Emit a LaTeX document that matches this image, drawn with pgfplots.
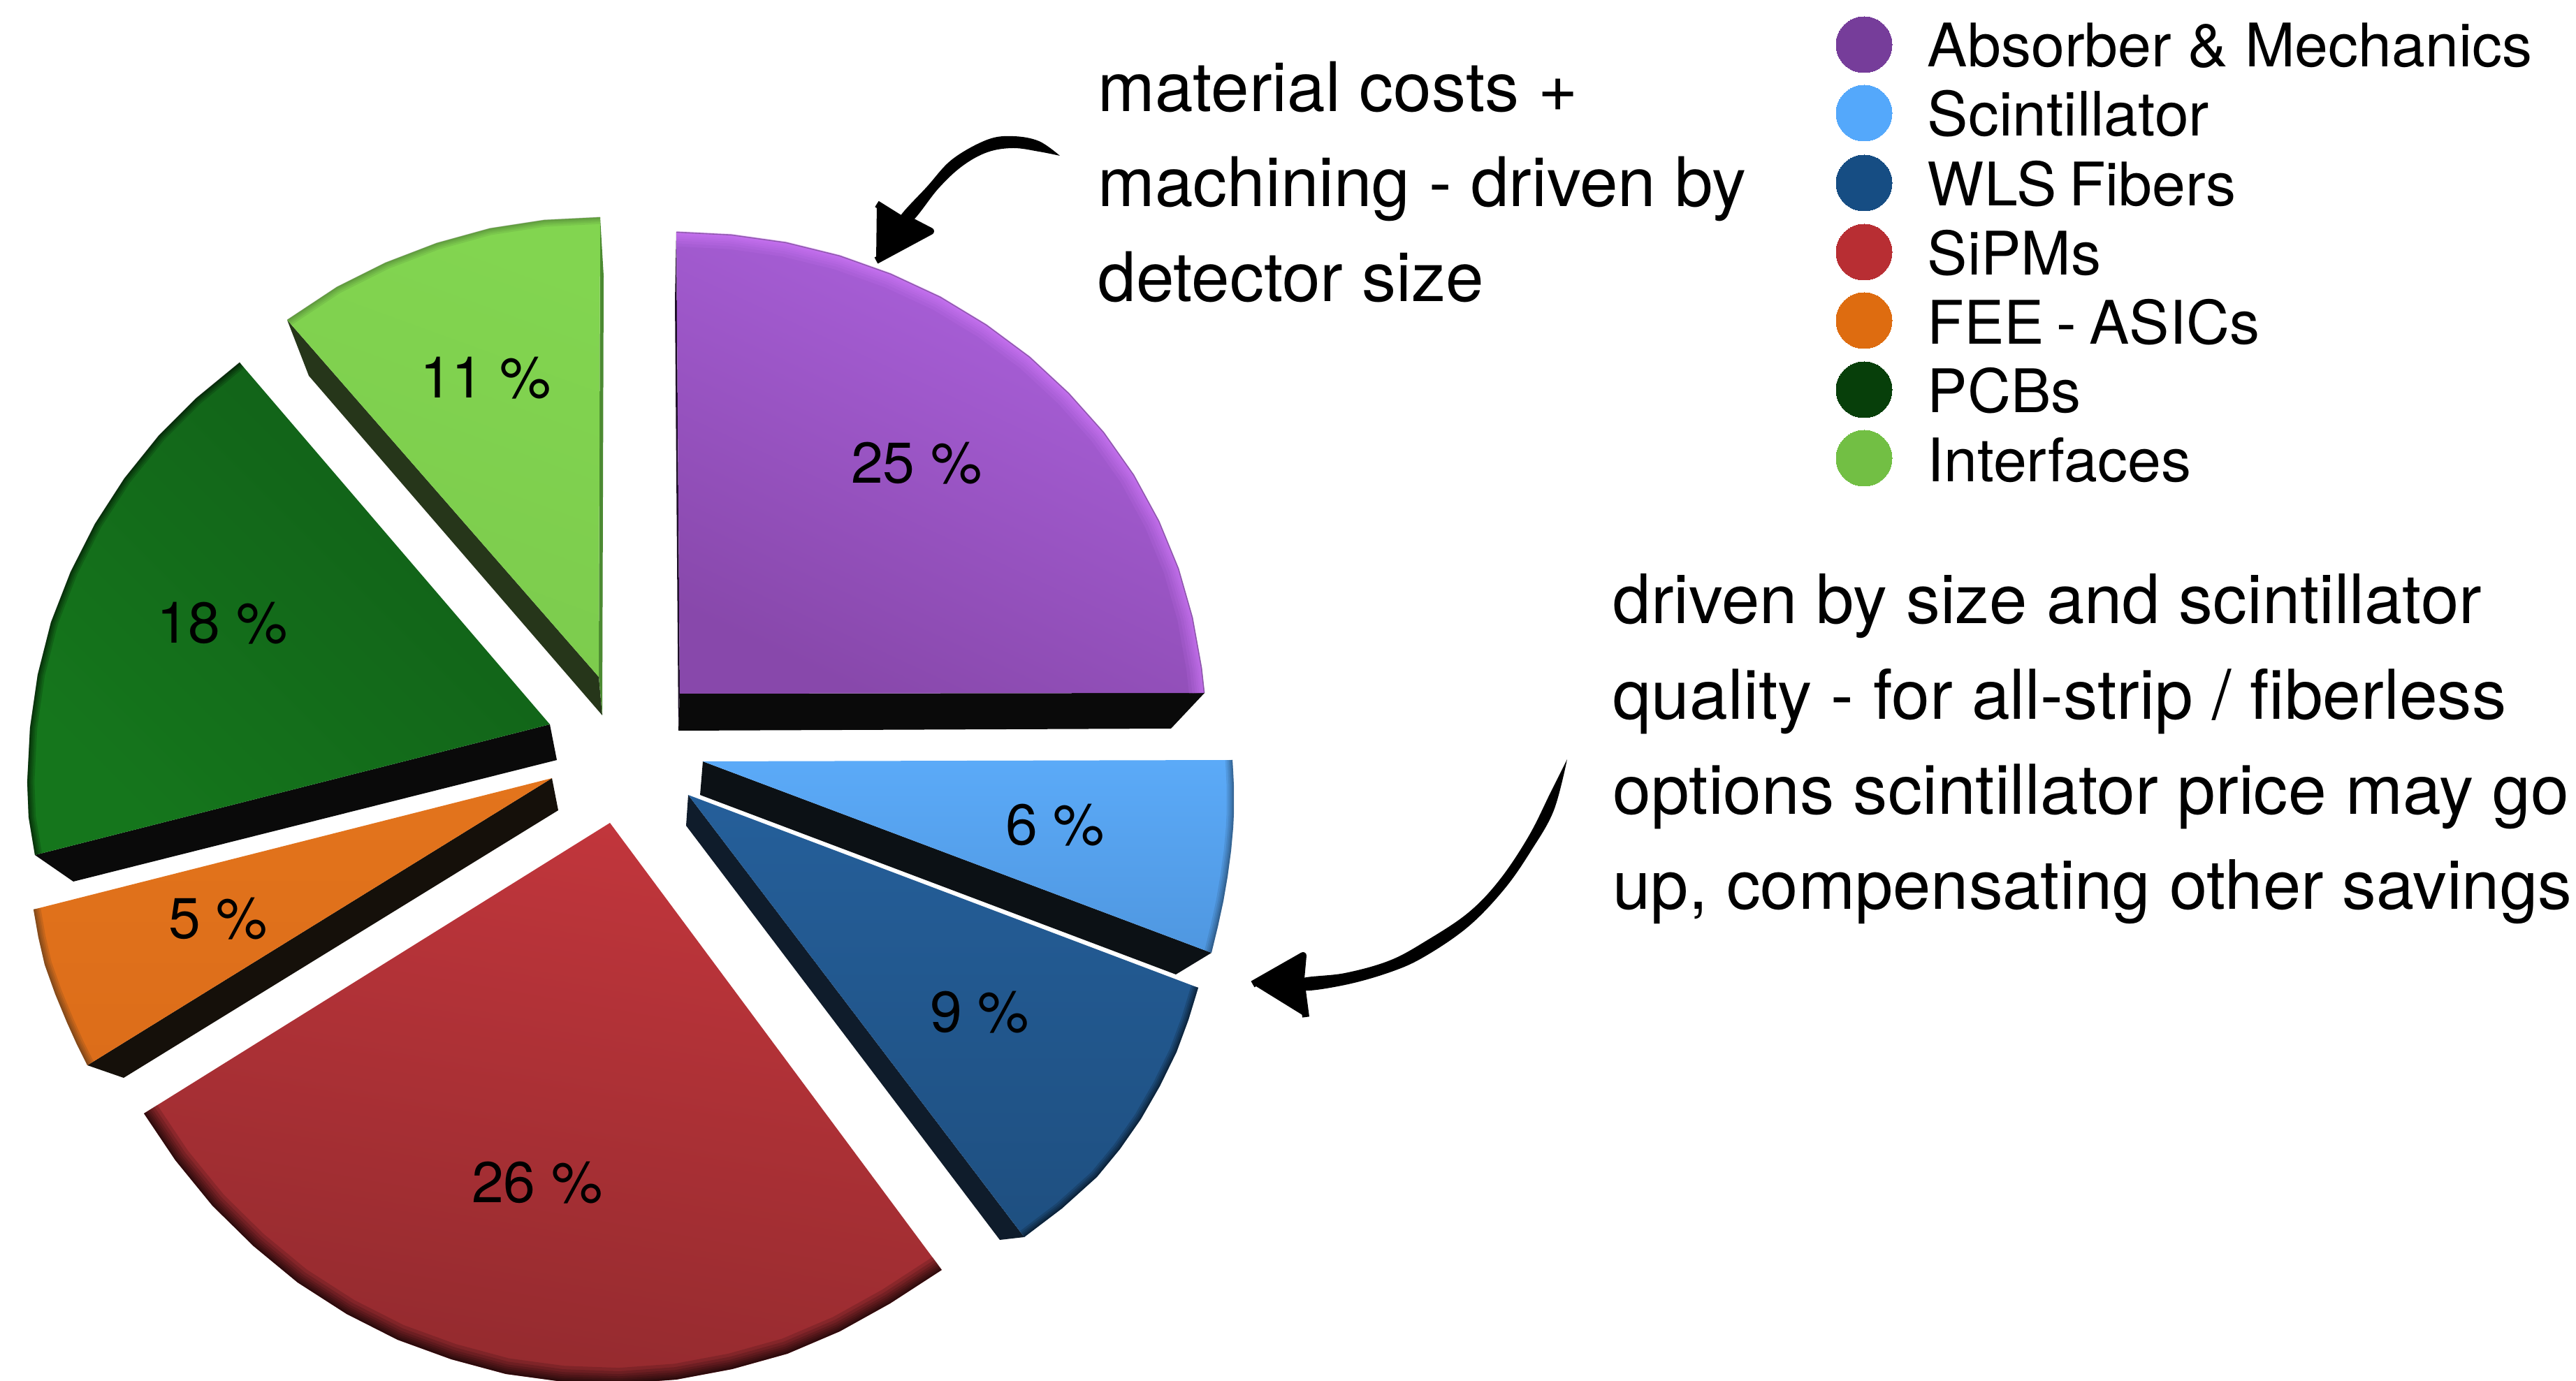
\documentclass[border=0pt]{standalone}
\usepackage{fontspec}
\setmainfont{TeX Gyre Heros}
\usepackage{pgfplots}
\usepackage{pgfplotstable}
\pgfplotsset{compat=1.18}

% Slice outlines: first row is the apex, the remaining rows follow the rim.
\pgfplotstableread{
x y
973 993
968 332
1047 336
1125 347
1202 366
1275 392
1346 425
1412 465
1474 511
1530 563
1580 619
1623 680
1659 746
1687 814
1707 884
1720 956
1724 992
}\sliceAbsorber
\pgfplotstableread{
x y
1006 1090
1764 1088
1765 1105
1766 1125
1766 1145
1766 1165
1765 1185
1762 1218
1757 1255
1751 1290
1743 1327
1734 1364
}\sliceScint
\pgfplotstableread{
x y
985 1138
1715 1414
1701 1460
1684 1506
1660 1555
1633 1602
1603 1645
1570 1685
1520 1730
1466 1771
}\sliceWLS
\pgfplotstableread{
x y
873 1178
206 1594
251 1661
304 1726
363 1784
426 1836
496 1881
569 1918
646 1946
724 1967
805 1978
886 1981
968 1975
1048 1960
1127 1938
1202 1906
1274 1866
1348 1818
}\sliceSiPM
\pgfplotstableread{
x y
790 1114
48 1302
55 1342
64 1381
79 1423
96 1464
110 1495
125 1525
}\sliceFEE
\pgfplotstableread{
x y
787 1037
343 519
281 570
227 624
178 685
136 750
101 819
73 891
54 966
43 1042
39 1120
41 1170
50 1224
}\slicePCB
\pgfplotstableread{
x y
857 969
411 458
482 411
552 376
625 348
701 327
779 315
859 311
}\sliceInterf

\definecolor{cAbs}{HTML}{763D9A}
\definecolor{cSci}{HTML}{54A8FB}
\definecolor{cWLS}{HTML}{164D83}
\definecolor{cSiP}{HTML}{B82E33}
\definecolor{cFEE}{HTML}{DE6C10}
\definecolor{cPCB}{HTML}{073F0A}
\definecolor{cInt}{HTML}{72BF44}

% Soft band along a slice rim: table, apex x, apex y, colour, opacity, width, inset factor
\newcommand{\rimstroke}[7]{%
  \addplot[draw=#4,line width=#6,opacity=#5,line join=round]
    table[skip coords between index={0}{1},
          x expr={#2+(\thisrow{x}-#2)*#7},
          y expr={#3+(\thisrow{y}-#3)*#7}] {#1};}
\newcommand{\rimthin}[5]{%
  \rimstroke{#1}{#2}{#3}{#4}{#5}{0.4pt}{0.999}%
  \rimstroke{#1}{#2}{#3}{#4}{#5}{0.8pt}{0.998}%
  \rimstroke{#1}{#2}{#3}{#4}{#5}{1.3pt}{0.9966}%
  \rimstroke{#1}{#2}{#3}{#4}{#5}{1.9pt}{0.995}%
  \rimstroke{#1}{#2}{#3}{#4}{#5}{2.6pt}{0.9932}}
\newcommand{\rimwide}[5]{%
  \rimthin{#1}{#2}{#3}{#4}{#5}%
  \rimstroke{#1}{#2}{#3}{#4}{#5}{3.4pt}{0.9912}%
  \rimstroke{#1}{#2}{#3}{#4}{#5}{4.4pt}{0.9886}%
  \rimstroke{#1}{#2}{#3}{#4}{#5}{5.6pt}{0.9855}}
\newcommand{\pctlabel}[3]{\node[anchor=base,inner sep=0pt] at (axis cs:#1,#2) {\fontsize{20.6}{20.6}\selectfont #3};}
\newcommand{\legendrow}[5]{%
  \addplot[only marks,mark=*,mark size=10pt,color=#4,mark options={line width=0pt}] coordinates {(2668,#1)};
  \node[anchor=base west,inner sep=0pt] at (axis cs:2758,#2) {\fontsize{#5}{#5}\selectfont #3};}
\newcommand{\noteline}[4]{\node[anchor=base west,inner sep=0pt] at (axis cs:#1,#2) {\fontsize{#4}{#4}\selectfont #3};}

\begin{document}
\begin{tikzpicture}
\useasboundingbox (0,0) rectangle (921.75pt,494.25pt);
\begin{axis}[
  at={(0,0)},anchor=south west,
  scale only axis,width=921.75pt,height=494.25pt,
  xmin=0,xmax=3687,ymin=0,ymax=1977,y dir=reverse,
  hide axis]

% Extruded side walls of the slices
\addplot[fill=black!96,draw=none] coordinates {(973,993)(1724,992)(1676,1043)(971,1046)};
\addplot[fill=black!75!cAbs,draw=none] coordinates {(968,332)(973,993)(971,1046)(966,430)};
\addplot[fill=black!96,draw=none] coordinates {(50,1224)(787,1037)(797,1088)(105,1262)};
\addplot[fill={rgb,255:red,38;green,54;blue,26},draw=none] coordinates {(411,458)(857,969)(862,1024)(442,538)};
\addplot[fill={rgb,255:red,76;green,138;blue,50},draw=none] coordinates {(859,311)(864,395)(862,1024)(857,969)};
\addplot[fill={rgb,255:red,21;green,16;blue,10},draw=none] coordinates {(125,1525)(790,1114)(799,1160)(177,1543)};
\addplot[fill={rgb,255:red,12;green,17;blue,21},draw=none] coordinates {(1006,1090)(1734,1364)(1683,1395)(1002,1138)};
\addplot[fill={rgb,255:red,15;green,28;blue,43},draw=none] coordinates {(985,1138)(1466,1771)(1431,1775)(982,1182)};

% Slice tops
\addplot[draw=none,shade,top color={rgb,255:red,173;green,98;blue,223},bottom color={rgb,255:red,136;green,72;blue,171},shading angle=-25] table {\sliceAbsorber};
\addplot[draw=none,shade,top color={rgb,255:red,91;green,170;blue,248},bottom color={rgb,255:red,79;green,151;blue,224}] table {\sliceScint};
\addplot[draw=none,shade,top color={rgb,255:red,37;green,95;blue,154},bottom color={rgb,255:red,30;green,79;blue,128}] table {\sliceWLS};
\addplot[draw=none,shade,top color={rgb,255:red,194;green,54;blue,60},bottom color={rgb,255:red,146;green,42;blue,46},shading angle=-10] table {\sliceSiPM};
\addplot[draw=none,shade,top color={rgb,255:red,227;green,116;blue,28},bottom color={rgb,255:red,220;green,109;blue,26}] table {\sliceFEE};
\addplot[draw=none,shade,top color={rgb,255:red,17;green,95;blue,24},bottom color={rgb,255:red,21;green,118;blue,28},shading angle=-45] table {\slicePCB};
\addplot[draw=none,shade,top color={rgb,255:red,130;green,213;blue,80},bottom color={rgb,255:red,124;green,203;blue,77},shading angle=-20] table {\sliceInterf};

% Rim shading
\rimwide{\sliceAbsorber}{973}{993}{{rgb,255:red,215;green,125;blue,255}}{0.13}
\rimstroke{\sliceAbsorber}{973}{993}{{rgb,255:red,90;green,60;blue,110}}{0.5}{0.4pt}{0.9995}
\rimthin{\sliceScint}{1006}{1090}{black}{0.09}
\rimthin{\sliceWLS}{985}{1138}{black}{0.15}
\rimwide{\sliceSiPM}{873}{1178}{black}{0.14}
\rimthin{\sliceFEE}{790}{1114}{{rgb,255:red,70;green,50;blue,30}}{0.16}
\rimthin{\slicePCB}{787}{1037}{black}{0.15}
\rimthin{\sliceInterf}{857}{969}{{rgb,255:red,60;green,90;blue,45}}{0.11}

% Percentages
\pctlabel{1312}{692}{25 \%}
\pctlabel{1510}{1209}{6 \%}
\pctlabel{1402}{1478}{9 \%}
\pctlabel{769}{1721}{26 \%}
\pctlabel{312}{1343}{5 \%}
\pctlabel{318}{921}{18 \%}
\pctlabel{695}{570}{11 \%}

% Legend
\legendrow{64}{96}{Absorber \& Mechanics}{cAbs}{21.5}
\legendrow{162}{195}{Scintillator}{cSci}{21.9}
\legendrow{262}{295}{WLS\kern-0.07em\ Fibers}{cWLS}{21.5}
\legendrow{361}{394}{SiPMs}{cSiP}{21.5}
\legendrow{459}{493}{FEE\kern-0.07em\ -\kern-0.07em\ ASICs}{cFEE}{21.5}
\legendrow{558}{591}{PCBs}{cPCB}{21.5}
\legendrow{656}{690}{Interfaces}{cInt}{21.5}

% Notes
\noteline{1571}{160}{material costs +}{24.5}
\noteline{1571}{296}{machining - driven by}{24.5}
\noteline{1571}{432}{detector size}{24.5}
\noteline{2308}{893}{driven by size and scintillator}{24.4}
\noteline{2308}{1030}{quality - for all-strip / fiberless}{24.6}
\noteline{2308}{1166}{options scintillator price may go}{24.6}
\noteline{2308}{1302}{up, compensating other savings}{24.35}

% Hand-drawn arrows
\addplot[fill=black,draw=none,smooth,tension=0.6] coordinates {
  (1517,223)(1487,202)(1450,195)(1413,200)(1363,228)(1327,267)(1287,312)
  (1305,317)(1343,270)(1377,238)(1413,218)(1450,212)(1487,217)(1517,223)};
\addplot[fill=black,draw=black,line width=2.5pt,line join=round] coordinates {
  (1255,292)(1287,312)(1305,317)(1332,331)(1254,373)};
\addplot[fill=black,draw=none,smooth,tension=0.6] coordinates {
  (2243,1087)(2220,1133)(2188,1197)(2146,1260)(2101,1307)(2041,1347)(1989,1375)(1925,1393)(1862,1401)
  (1864,1418)(1925,1410)(1989,1392)(2038,1370)(2101,1327)(2153,1273)(2192,1217)(2224,1160)(2243,1087)};
\addplot[fill=black,draw=black,line width=2.5pt,line join=round] coordinates {
  (1793,1409)(1865,1368)(1862,1401)(1864,1418)(1869,1456)};
\end{axis}
\end{tikzpicture}
\end{document}
